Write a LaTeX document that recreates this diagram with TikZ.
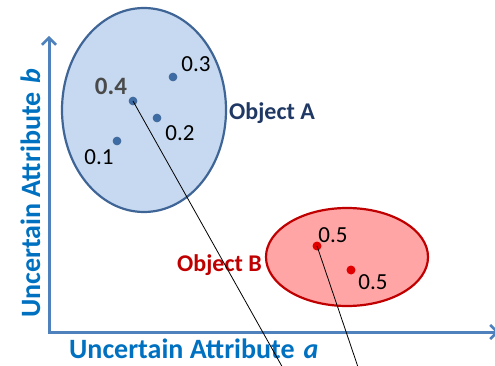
\documentclass[tikz,border=0pt]{standalone}
\usepackage{fontspec}
\setmainfont{Carlito}
\usetikzlibrary{arrows.meta,shapes.geometric}
\definecolor{axisblue}{HTML}{4F81BD}
\definecolor{labelblue}{HTML}{0070C0}
\definecolor{ellAfill}{HTML}{C6D9F0}
\definecolor{ellAdraw}{HTML}{3F6597}
\definecolor{dotA}{HTML}{3D6CA4}
\definecolor{objA}{HTML}{1F3864}
\definecolor{ellBfill}{HTML}{FFA5A5}
\definecolor{ellBdraw}{HTML}{C00000}
\definecolor{dotB}{HTML}{E00000}
\definecolor{objB}{HTML}{C00000}
\definecolor{boldgray}{HTML}{4A4A4A}
\tikzset{
  axisline/.style={draw=axisblue, line width=3pt, -{Straight Barb[length=7pt,width=14pt,line width=2.5pt]}},
  axislabel/.style={text=labelblue, inner sep=0pt, font=\bfseries\fontsize{28}{31}\selectfont},
  region/.style={ellipse, line width=2.2pt, inner sep=0pt},
  dotAstyle/.style={circle, fill=dotA, draw=ellAdraw, line width=0.6pt, minimum size=8pt, inner sep=0pt},
  dotBstyle/.style={circle, fill=dotB, minimum size=9pt, inner sep=0pt},
  prob/.style={font=\fontsize{23}{26}\selectfont, inner sep=0pt, text=black},
  objlabel/.style={font=\bfseries\fontsize{24}{27}\selectfont, inner sep=0pt},
  pointer/.style={draw=black, line width=0.8pt},
}
\begin{document}
\begin{tikzpicture}[x=1pt, y=-1pt]
\useasboundingbox (0,0) rectangle (495,366);
% ellipses
\node (ellA) [region, draw=ellAdraw, fill=ellAfill, minimum width=164pt, minimum height=204pt] at (144,110) {};
\node (ellB) [region, draw=ellBdraw, fill=ellBfill, minimum width=162pt, minimum height=98pt] at (347,257) {};
% axes
\coordinate (origin) at (49,332);
\coordinate (ytip) at (49,36);
\coordinate (xtip) at (499,332);
\draw[axisline] (origin) -- (ytip);
\draw[axisline] ([xshift=-1.5pt]origin) -- (xtip);
% axis labels
\node (xlab) [axislabel, anchor=base west] at (69,358) {Uncertain Attribute\hspace{9pt}\textit{a}};
\node (ylab) [axislabel, anchor=base west, rotate=90] at (40,318) {Uncertain Attribute\hspace{9pt}\textit{b}};
% dots A
\node (d4) [dotAstyle] at (133,101) {};
\node (d3) [dotAstyle] at (173,77) {};
\node (d2) [dotAstyle] at (157,118) {};
\node (d1) [dotAstyle] at (117,141) {};
\node (l4) [prob, font=\bfseries\fontsize{25}{28}\selectfont, text=boldgray] at (111,86) {0.4};
\node (l3) [prob] at (196,64) {0.3};
\node (l2) [prob] at (180,133) {0.2};
\node (l1) [prob] at (99,157) {0.1};
\node (oA) [objlabel, text=objA, anchor=west] at (229,113) {Object A};
% dots B
\node (e1) [dotBstyle] at (317,246) {};
\node (e2) [dotBstyle] at (351,270) {};
\node (m1) [prob] at (333,235) {0.5};
\node (m2) [prob] at (373,282) {0.5};
\node (oB) [objlabel, text=objB, anchor=east] at (262,265) {Object B};
% pointer lines
\coordinate (p1) at (284,370);
\coordinate (p2) at (359,370);
\draw[pointer] (d4.center) -- (p1);
\draw[pointer] (e1.center) -- (p2);
\end{tikzpicture}
\end{document}
